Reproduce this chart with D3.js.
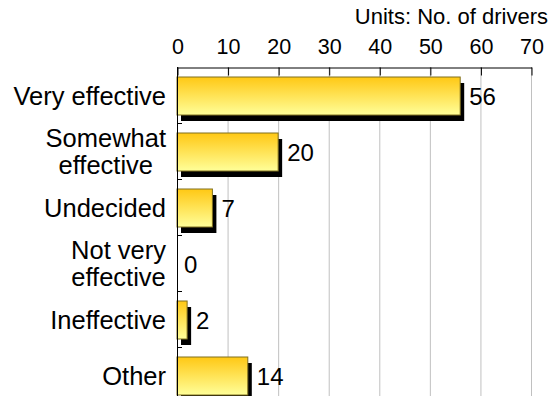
<!DOCTYPE html>
<html><head><meta charset="utf-8">
<script src="https://cdn.jsdelivr.net/npm/d3@7"></script>
<style>
html,body{margin:0;padding:0;background:#fff;}
svg{display:block;font-family:"Liberation Sans",Arial,sans-serif;}
</style></head>
<body>
<svg id="c" width="555" height="396"></svg>
<script>
const categories = [["Very effective"],["Somewhat","effective"],["Undecided"],["Not very","effective"],["Ineffective"],["Other"]];
const values = [56, 20, 7, 0, 2, 14];
const tickValues = [0,10,20,30,40,50,60,70];
const unitsLabel = "Units: No. of drivers";

const FF = "'Liberation Sans', Arial, sans-serif";
const svg = d3.select("#c");
const pL = 177, pR = 531, pT = 67, pB = 403;
const x = d3.scaleLinear().domain([0,70]).range([pL,pR]);
const y = d3.scaleBand().domain(d3.range(categories.length)).range([pT,pB]).paddingInner(0);

const defs = svg.append("defs");
const g = defs.append("linearGradient").attr("id","bg").attr("x1",0).attr("y1",0).attr("x2",0).attr("y2",1);
g.append("stop").attr("offset","0%").attr("stop-color","#FFC814");
g.append("stop").attr("offset","100%").attr("stop-color","#FFFF99");

// gridlines
svg.append("g").selectAll("line").data(tickValues.slice(1)).join("line")
  .attr("x1",d=>x(d)+0.5).attr("x2",d=>x(d)+0.5).attr("y1",pT).attr("y2",396)
  .attr("stroke","#c0c0c0").attr("stroke-width",1);

// top axis
const axTop = d3.axisTop(x).tickValues(tickValues).tickSizeInner(-8).tickSizeOuter(0).tickPadding(14);
const gt = svg.append("g").attr("transform",`translate(0.5,${pT+0.5})`).call(axTop);
gt.attr("font-family",FF);
gt.select(".domain").attr("stroke","#000");
gt.selectAll(".tick line").attr("stroke","#000");
gt.selectAll(".tick text").attr("font-size",21.5).attr("font-family",FF).attr("fill","#000");

svg.append("text").attr("x",548).attr("y",24).attr("text-anchor","end")
  .attr("font-size",22).attr("font-family",FF).text(unitsLabel);

const barH = 38, padTop = 10, sdx = 4, sdy = 6;
// shadows
svg.append("g").selectAll("rect").data(values).join("rect")
  .attr("x",x(0)+sdx).attr("y",(d,i)=>y(i)+padTop+sdy)
  .attr("width",d=>Math.max(0,x(d)-x(0))).attr("height",barH)
  .attr("fill",d=>d>0?"#000":"none");
// bars
svg.append("g").selectAll("rect").data(values).join("rect")
  .attr("x",x(0)).attr("y",(d,i)=>y(i)+padTop)
  .attr("width",d=>Math.max(0,x(d)-x(0))).attr("height",barH)
  .attr("fill",d=>d>0?"url(#bg)":"none")
  .attr("stroke",d=>d>0?"#807020":"none").attr("stroke-width",1);

// left axis
svg.append("line").attr("x1",pL+0.5).attr("x2",pL+0.5).attr("y1",pT).attr("y2",396).attr("stroke","#000");
svg.append("g").selectAll("line").data(d3.range(1,categories.length)).join("line")
  .attr("x1",pL).attr("x2",pL+5).attr("y1",i=>y(i)+0.5).attr("y2",i=>y(i)+0.5).attr("stroke","#000");

// value labels
svg.append("g").selectAll("text").data(values).join("text")
  .attr("x",d=>d>0 ? x(d)+sdx+5 : x(0)+7).attr("y",(d,i)=>y(i)+y.bandwidth()/2+4)
  .attr("dominant-baseline","middle").attr("font-size",24).attr("font-family",FF).text(d=>d);

// category labels
const lh = 27;
const cg = svg.append("g");
categories.forEach((lines,i)=>{
  const cy = y(i)+y.bandwidth()/2 + 3;
  const t = cg.append("text").attr("font-size",25.5).attr("font-family",FF).attr("text-anchor","middle");
  lines.forEach((ln,j)=>{
    t.append("tspan").attr("x",0).attr("y",cy+(j-(lines.length-1)/2)*lh).attr("dominant-baseline","middle").text(ln);
  });
  const w = d3.max(t.selectAll("tspan").nodes(),n=>n.getComputedTextLength());
  t.selectAll("tspan").attr("x",166-w/2);
});
</script>
</body></html>
